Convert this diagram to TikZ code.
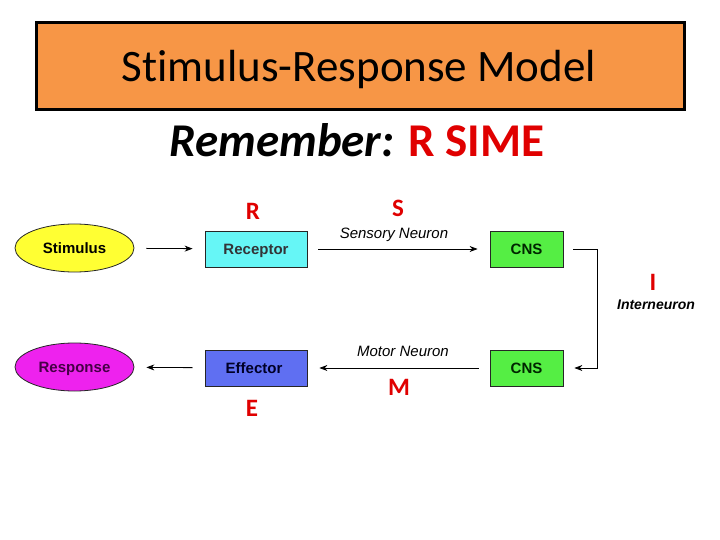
\documentclass[tikz,border=0pt]{standalone}
\usepackage{fontspec}
\setmainfont[Ligatures=NoCommon]{Carlito}
\newfontfamily\arialf{Liberation Sans}
\usetikzlibrary{shapes.geometric,arrows.meta}
\definecolor{titleorange}{HTML}{F79646}
\definecolor{sred}{HTML}{E00000}
\definecolor{stimyellow}{HTML}{FFFF33}
\definecolor{respmag}{HTML}{EE22EE}
\definecolor{reccyan}{HTML}{66F6F6}
\definecolor{cnsgreen}{HTML}{55EE44}
\definecolor{effblue}{HTML}{5F6FF2}
\begin{document}
\begin{tikzpicture}[x=1pt,y=-1pt,
  boxtext/.style={font=\arialf\bfseries\fontsize{15}{18}\selectfont, text height=10.7pt, text depth=0pt, inner sep=0pt},
  ellbox/.style={ellipse, draw=black!85, line width=0.8pt, minimum width=119pt, minimum height=48pt, boxtext},
  recbox/.style={rectangle, draw=black!85, line width=0.8pt, minimum width=102pt, minimum height=36pt, boxtext},
  cnsbox/.style={rectangle, draw=black!85, line width=0.8pt, fill=cnsgreen, text=green!15!black, minimum width=73pt, minimum height=36pt, boxtext},
  conn/.style={line width=0.8pt, -{Stealth[length=8pt,width=6pt]}},
  letter/.style={anchor=base, text=sred, font=\bfseries\fontsize{25}{30}\selectfont, inner sep=0pt},
  nlabel/.style={anchor=base, font=\arialf\itshape\fontsize{15}{18}\selectfont, inner sep=0pt}
]
\useasboundingbox (0,0) rectangle (720,540);
\fill[white] (0,0) rectangle (720,540);
% title
\node[draw=black, line width=3pt, fill=titleorange, minimum width=648pt, minimum height=87pt, inner sep=0pt] (title) at (360.5,66) {};
\node[anchor=base, inner sep=0pt, font=\fontsize{45}{54}\selectfont] (titletext) at (359,82) {Stimulus-Response Model};
\node[anchor=base, inner sep=0pt, font=\bfseries\fontsize{47}{56}\selectfont] (remember) at (357,157)
  {\textit{Remember:} \textcolor{sred}{R SIME}};
% nodes
\node[ellbox, fill=stimyellow, text=black] (stim) at (74.5,248) {Stimulus};
\node[recbox, fill=reccyan, text=cyan!10!black] (rec) at (256,249) {Receptor};
\node[cnsbox] (cns1) at (526.5,249) {CNS};
\node[ellbox, fill=respmag, text=violet!55!black] (resp) at (74.5,367) {Response};
\node[recbox, fill=effblue, text=blue!15!black] (eff) at (256,368) {\hspace*{-4pt}Effector};
\node[cnsbox] (cns2) at (526.5,368) {CNS};
% connectors
\draw[conn, shorten <=12pt, shorten >=12pt] (stim) -- (rec);
\draw[conn, shorten <=11pt, shorten >=12pt] (rec) -- (cns1);
\draw[conn, shorten <=10pt, shorten >=11pt] (cns1.east) -- ++(34,0) |- (cns2.east);
\draw[conn, shorten <=11pt, shorten >=12pt] (cns2) -- (eff);
\draw[conn, shorten <=12pt, shorten >=12pt] (eff) -- (resp);
% labels
\node[nlabel] (sens) at (394,238) {Sensory Neuron};
\node[nlabel] (motor) at (403,356) {Motor Neuron};
\node[anchor=base, inner sep=0pt, font=\arialf\bfseries\itshape\fontsize{14}{17}\selectfont] (inter) at (656,309) {Interneuron};
\node[letter] (lR) at (253,219) {R};
\node[letter] (lS) at (398,216) {S};
\node[letter] (lI) at (653,290) {I};
\node[letter] (lM) at (399,395) {M};
\node[letter] (lE) at (252,416) {E};
\end{tikzpicture}
\end{document}
